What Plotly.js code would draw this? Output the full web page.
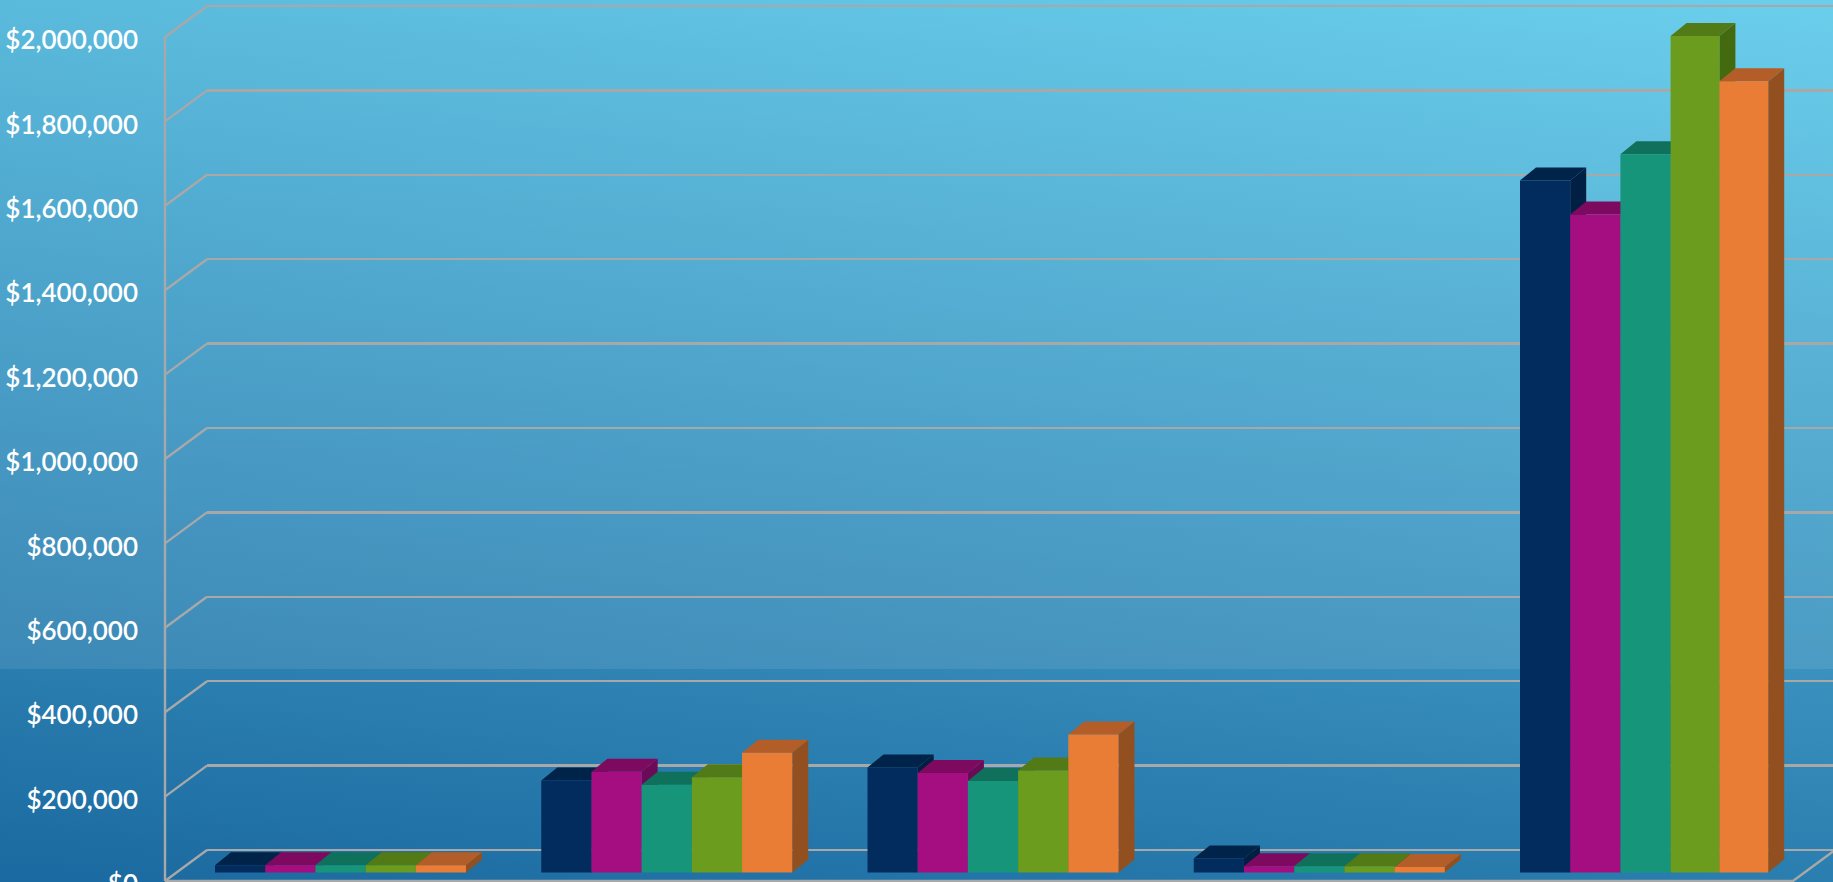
<!DOCTYPE html>
<html>
<head>
<meta charset="utf-8">
<script src="https://cdn.plot.ly/plotly-3.0.0.min.js"></script>
<style>
  html, body { margin: 0; padding: 0; width: 1833px; height: 882px; overflow: hidden; }
  body {
    background:
      linear-gradient(to bottom, rgba(255,255,255,0.0) 0, rgba(255,255,255,0.09) 669px, rgba(255,255,255,0) 669px),
      linear-gradient(187deg, #6bcfec 0%, #1a69a0 100%);
  }
  #chart { width: 1833px; height: 882px; }
</style>
</head>
<body>
<div id="chart"></div>
<script>
// Five quarters of five series, in dollars.
const groups = [0, 1, 2, 3, 4];
const navy    = [17000, 218000, 249000, 33000, 1640000];
const magenta = [17000, 239000, 236000, 15000, 1559000];
const teal    = [17000, 208000, 217000, 15000, 1702000];
const green   = [17000, 226000, 242000, 15000, 1982000];
const orange  = [17000, 284000, 327000, 13000, 1875000];

const tickValues = [0, 200000, 400000, 600000, 800000, 1000000, 1200000, 1400000, 1600000, 1800000, 2000000];

const frontColors = ['#032c5e', '#a50e80', '#16957a', '#6b9c1e', '#ea7d35'];
const topColors   = ['#00234a', '#7e0a60', '#0f715c', '#527a16', '#b35e28'];
const sideColors  = ['#011f42', '#6b0a56', '#0c5f4d', '#446a10', '#925020'];
const gridColor = '#a8a8a8';

// Scene geometry: how the floor, back wall and bar plane sit on the page.
const W = 1833, H = 882, LEFT = 158, WALL_X = 165;
const pxPerDollar = 84.4 / 200000;
const pxPerGroup = 326.25;
const floorFrontY = 881, wallBackY = 850, barBaseY = 872.5;
const wallShiftX = 42, firstGroupCenterX = 340.5;
const barWidthPx = 50.2, narrowBarPx = 48.8, depthX = 16, depthY = 13;

const dollars = px => px / pxPerDollar;
const units = px => px / pxPerGroup;

// Value range of a plane whose zero sits at page row zeroY.
const yRange = zeroY => [-dollars(H - zeroY), dollars(zeroY)];
const xRange = originX => [(LEFT - originX) / pxPerGroup, (W - originX) / pxPerGroup];

const series = [navy, magenta, teal, green, orange];
const traces = [];

// The last two bars of the final group are drawn slightly narrower.
const barPx = (g, s) => (g === 4 && s >= 3) ? narrowBarPx : barWidthPx;

// Connector strokes between the front edge of the floor and the back wall.
const leftEdge = -0.5;
const wallRise = dollars(floorFrontY - wallBackY);
const cx = [], cy = [];
tickValues.forEach(v => {
  cx.push(leftEdge, leftEdge + units(wallShiftX), null);
  cy.push(v, v + wallRise, null);
});
cx.push(leftEdge, leftEdge, null);
cy.push(0, tickValues[tickValues.length - 1], null);
const rightEdge = leftEdge + 4.99;
cx.push(leftEdge, rightEdge, rightEdge + units(wallShiftX));
cy.push(0, 0, wallRise);
traces.push({
  type: 'scatter', mode: 'lines', x: cx, y: cy, xaxis: 'x', yaxis: 'y',
  line: { color: gridColor, width: 2.4 }, hoverinfo: 'skip', showlegend: false
});

// An invisible stroke keeps the back wall's axes alive so its gridlines get drawn.
traces.push({
  type: 'scatter', mode: 'lines', x: [0, 1], y: [0, 0], xaxis: 'x2', yaxis: 'y2',
  line: { color: gridColor, width: 2 }, hoverinfo: 'skip', showlegend: false, opacity: 0
});

// Bars, painted left to right so each one covers its left neighbour's side face.
const dx = units(depthX), dy = dollars(depthY);
series.forEach((vals, s) => {
  const lefts = groups.map(g => {
    let px = -2.5 * barWidthPx;
    for (let k = 0; k < s; k++) px += barPx(g, k);
    return g + units(px);
  });
  const widths = groups.map(g => units(barPx(g, s)));
  const xs = lefts.map((l, i) => l + widths[i] / 2);
  const sx = [], sy = [], tx = [], ty = [];
  lefts.forEach((l, i) => {
    const r = l + widths[i], v = vals[i];
    sx.push(r, r + dx, r + dx, r, r, null);
    sy.push(0, dy, v + dy, v, 0, null);
    tx.push(l, r, r + dx, l + dx, l, null);
    ty.push(v, v, v + dy, v + dy, v, null);
  });
  const zBase = s * 2;
  traces.push({
    type: 'scatter', mode: 'lines', x: sx, y: sy, xaxis: 'x3', yaxis: 'y3', zorder: zBase,
    fill: 'toself', fillcolor: sideColors[s], line: { width: 0 }, hoverinfo: 'skip', showlegend: false
  });
  traces.push({
    type: 'scatter', mode: 'lines', x: tx, y: ty, xaxis: 'x3', yaxis: 'y3', zorder: zBase,
    fill: 'toself', fillcolor: topColors[s], line: { width: 0 }, hoverinfo: 'skip', showlegend: false
  });
  traces.push({
    type: 'bar', x: xs, y: vals, width: widths, xaxis: 'x3', yaxis: 'y3', zorder: zBase + 1,
    marker: { color: frontColors[s], line: { width: 0 } }, showlegend: false
  });
});

const hidden = { visible: true, showgrid: false, zeroline: false, showline: false, showticklabels: false, ticks: '' };

const layout = {
  width: W, height: H,
  margin: { l: LEFT, r: 0, t: 0, b: 0, pad: 0 },
  paper_bgcolor: 'rgba(0,0,0,0)', plot_bgcolor: 'rgba(0,0,0,0)',
  showlegend: false, barmode: 'overlay',
  // Front plane: carries the dollar labels.
  xaxis: Object.assign({}, hidden, { range: xRange(WALL_X + pxPerGroup / 2), domain: [0, 1], anchor: 'y' }),
  yaxis: {
    range: yRange(floorFrontY), domain: [0, 1], anchor: 'x',
    tickmode: 'array', tickvals: tickValues, tickformat: '$,.0f', ticks: '',
    ticklabelstandoff: 19, ticklabelshift: 3, ticklabeloverflow: 'allow',
    showgrid: false, zeroline: false, showline: false,
    tickfont: { family: 'Lato, sans-serif', size: 26, color: '#ffffff', weight: 600 }
  },
  // Back wall: native gridlines shifted up and to the right.
  xaxis2: Object.assign({}, hidden, { range: [0, 1], domain: [(WALL_X + wallShiftX - LEFT) / (W - LEFT), 1], anchor: 'y2' }),
  yaxis2: {
    range: yRange(wallBackY), domain: [0, 1], anchor: 'x2',
    tickmode: 'array', tickvals: tickValues, showticklabels: false, ticks: '',
    showgrid: true, gridcolor: gridColor, gridwidth: 2.4,
    zeroline: true, zerolinecolor: gridColor, zerolinewidth: 2.4, showline: false
  },
  // Bar plane: sits between the floor edge and the back wall.
  xaxis3: Object.assign({}, hidden, { range: xRange(firstGroupCenterX), domain: [0, 1], anchor: 'y3' }),
  yaxis3: Object.assign({}, hidden, { range: yRange(barBaseY), domain: [0, 1], anchor: 'x3' })
};

Plotly.newPlot('chart', traces, layout, { displayModeBar: false, staticPlot: true });
</script>
</body>
</html>
